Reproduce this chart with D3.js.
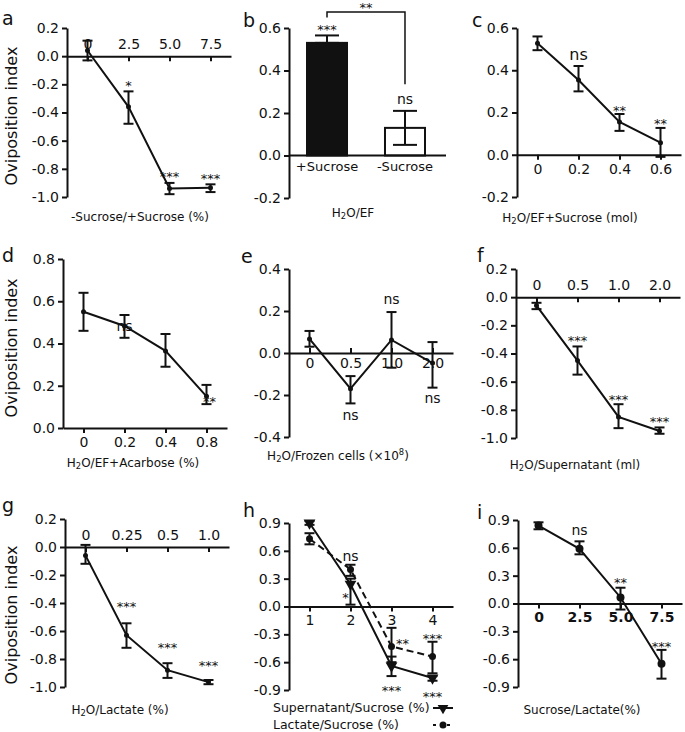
<!DOCTYPE html>
<html>
<head>
<meta charset="utf-8">
<script src="https://cdn.jsdelivr.net/npm/d3@7"></script>
<style>
  body { margin: 0; background: #fff; }
  svg text { font-family: "DejaVu Sans", "Liberation Sans", sans-serif; fill: #111; }
</style>
</head>
<body>
<div id="fig"></div>
<script>
// ---- data ----
const aDose = ["0", "2.5", "5.0", "7.5"];
const aMean = [0.04, -0.36, -0.94, -0.935];
const aHi = [0.11, -0.25, -0.90, -0.91];
const aLo = [-0.03, -0.48, -0.98, -0.965];
const aSig = ["", "*", "***", "***"];
const aSigY = [null, -0.18, -0.83, -0.84];

const bGroups = ["+Sucrose", "-Sucrose"];
const bMean = [0.53, 0.13];
const bHi = [0.565, 0.21];
const bLo = [0.53, 0.05];
const bSig = ["***", "ns"];
const bSigY = [0.61, 0.26];
const bPairSig = "**";

const cDose = ["0", "0.2", "0.4", "0.6"];
const cMean = [0.528, 0.354, 0.155, 0.057];
const cHi = [0.56, 0.42, 0.193, 0.127];
const cLo = [0.495, 0.30, 0.113, -0.01];
const cSig = ["", "ns", "**", "**"];
const cSigY = [null, 0.47, 0.226, 0.165];

const dDose = ["0", "0.2", "0.4", "0.8"];
const dMean = [0.55, 0.483, 0.365, 0.15];
const dHi = [0.64, 0.535, 0.445, 0.204];
const dLo = [0.46, 0.427, 0.29, 0.113];
const dSig = ["", "ns", "", "**"];
const dSigY = [null, 0.48, null, 0.14];

const eDose = ["0", "0.5", "1.0", "2.0"];
const eMean = [0.067, -0.17, 0.062, -0.048];
const eHi = [0.105, -0.11, 0.195, 0.052];
const eLo = [0.03, -0.24, -0.07, -0.165];
const eSig = ["", "ns", "ns", "ns"];
const eSigY = [null, -0.30, 0.25, -0.22];

const fDose = ["0", "0.5", "1.0", "2.0"];
const fMean = [-0.06, -0.45, -0.85, -0.95];
const fHi = [-0.04, -0.35, -0.76, -0.925];
const fLo = [-0.085, -0.55, -0.93, -0.97];
const fSig = ["", "***", "***", "***"];
const fSigY = [null, -0.28, -0.70, -0.86];

const gDose = ["0", "0.25", "0.5", "1.0"];
const gMean = [-0.06, -0.63, -0.88, -0.965];
const gHi = [0.015, -0.545, -0.83, -0.95];
const gLo = [-0.12, -0.72, -0.935, -0.98];
const gSig = ["", "***", "***", "***"];
const gSigY = [null, -0.40, -0.69, -0.82];

const hDose = ["1", "2", "3", "4"];
const hSeries = ["Supernatant/Sucrose (%)", "Lactate/Sucrose (%)"];
const hSupMean = [0.90, 0.24, -0.64, -0.77];
const hSupHi = [0.92, 0.30, -0.54, -0.75];
const hSupLo = [0.88, 0.02, -0.75, -0.80];
const hLacMean = [0.73, 0.40, -0.43, -0.54];
const hLacHi = [0.79, 0.45, -0.23, -0.38];
const hLacLo = [0.67, 0.33, -0.60, -0.72];
const hSigText = ["ns", "*", "**", "***", "***", "***"];
const hSigDose = [1, 1, 2, 3, 2, 3];
const hSigY = [0.53, 0.13, -0.36, -0.31, -0.87, -0.93];

const iDose = ["0", "2.5", "5.0", "7.5"];
const iMean = [0.84, 0.59, 0.065, -0.65];
const iHi = [0.875, 0.67, 0.17, -0.50];
const iLo = [0.80, 0.53, -0.065, -0.81];
const iSig = ["", "ns", "**", "***"];
const iSigY = [null, 0.78, 0.26, -0.42];

const yTitle = "Oviposition index";

// ---- drawing ----
const svg = d3.select("#fig").append("svg").attr("width", 685).attr("height", 732);
const INK = "#111";

function styleAxis(sel, size, weight) {
  sel.attr("font-size", size).attr("font-family", null);
  sel.selectAll("text").attr("fill", INK).attr("font-weight", weight || null);
  sel.selectAll("path, line").attr("stroke", INK).attr("stroke-width", 2);
}

// text with _x subscripts and ^x superscripts
function richText(t, str) {
  let shift = 0;
  str.split(/([_^]\w)/).forEach(s => {
    if (!s) return;
    if (s[0] === "_" || s[0] === "^") {
      const d = s[0] === "_" ? 2 : -5;
      t.append("tspan").attr("dy", d - shift).attr("font-size", "0.7em").text(s[1]);
      shift = d;
    } else {
      t.append("tspan").attr("dy", -shift).text(s);
      shift = 0;
    }
  });
}

function makePanel(p) {
  const g = svg.append("g");
  const y = d3.scaleLinear().domain(p.yDomain).range([p.bottom, p.top]);
  const n = Math.round((p.yDomain[1] - p.yDomain[0]) / p.step);
  const yTicks = d3.range(n + 1).map(i => +(p.yDomain[0] + i * p.step).toFixed(2));
  g.append("g")
    .attr("transform", `translate(${p.left},0)`)
    .call(d3.axisLeft(y).tickValues(yTicks).tickFormat(d => d.toFixed(1))
      .tickSize(5).tickPadding(3).tickSizeOuter(0))
    .call(styleAxis, 14);
  g.append("text").attr("x", p.letterX).attr("y", p.letterY)
    .attr("font-size", 19).text(p.letter);
  if (p.title) {
    const t = g.append("text").attr("x", p.titleX).attr("y", p.titleY)
      .attr("text-anchor", "middle").attr("font-size", 12);
    richText(t, p.title);
  }
  if (p.yLabel) {
    g.append("text")
      .attr("transform", `translate(17,${p.yLabelY}) rotate(-90)`)
      .attr("text-anchor", "middle").attr("font-size", 16).text(yTitle);
  }
  return { g, y };
}

function errorBars(g, x, y, hi, lo, capW) {
  const idx = d3.range(hi.length);
  const eb = g.append("g").attr("stroke", INK).attr("stroke-width", 2);
  eb.selectAll(".stem").data(idx).join("line").attr("class", "stem")
    .attr("x1", i => x(i)).attr("x2", i => x(i))
    .attr("y1", i => y(hi[i])).attr("y2", i => y(lo[i]));
  eb.selectAll(".capH").data(idx).join("line").attr("class", "capH")
    .attr("x1", i => x(i) - capW / 2).attr("x2", i => x(i) + capW / 2)
    .attr("y1", i => y(hi[i])).attr("y2", i => y(hi[i]));
  eb.selectAll(".capL").data(idx.filter(i => lo[i] !== hi[i])).join("line").attr("class", "capL")
    .attr("x1", i => x(i) - capW / 2).attr("x2", i => x(i) + capW / 2)
    .attr("y1", i => y(lo[i])).attr("y2", i => y(lo[i]));
}

function series(g, x, y, mean, hi, lo, opt) {
  const idx = d3.range(mean.length);
  g.append("path").datum(idx)
    .attr("fill", "none").attr("stroke", INK).attr("stroke-width", 2)
    .attr("stroke-dasharray", opt.dash || null)
    .attr("d", d3.line().x(i => x(i)).y(i => y(mean[i])));
  errorBars(g, x, y, hi, lo, 10);
  if (opt.marker === "tri") {
    g.selectAll(null).data(idx).join("path")
      .attr("d", d3.symbol(d3.symbolTriangle, 60))
      .attr("transform", i => `translate(${x(i)},${y(mean[i])}) rotate(180)`)
      .attr("fill", INK);
  } else {
    g.selectAll(null).data(idx).join("circle")
      .attr("cx", i => x(i)).attr("cy", i => y(mean[i]))
      .attr("r", opt.r || 2.5).attr("fill", INK);
  }
}

function sigText(g, xPos, yPos, t, size) {
  const star = t.includes("*");
  g.append("text").attr("x", xPos).attr("y", yPos)
    .attr("dy", star ? "0.62em" : "0.28em")
    .attr("text-anchor", "middle")
    .attr("font-size", star ? 13 : (size || 14))
    .attr("fill", star ? "#333" : INK)
    .text(t);
}

function linePanel(p, dose, mean, hi, lo, sig, sigY) {
  const { g, y } = makePanel(p);
  const x = d3.scaleLinear().domain([-0.5, 3.5]).range([p.left, p.left + 164]);
  let ax;
  if (p.xLabels === "top") ax = d3.axisTop(x).tickSize(-5).tickPadding(7);
  else if (p.xLabels === "up") ax = d3.axisBottom(x).tickSize(-5).tickPadding(5);
  else ax = d3.axisBottom(x).tickSize(5).tickPadding(4);
  ax.tickValues(d3.range(dose.length)).tickFormat(i => dose[i]).tickSizeOuter(0);
  g.append("g").attr("transform", `translate(0,${y(0)})`)
    .call(ax).call(styleAxis, 14, p.bold ? "bold" : null);
  if (mean) {
    series(g, x, y, mean, hi, lo, { r: p.r });
    sig.forEach((t, i) => {
      if (t) sigText(g, x(i) + (p.sigDx ? p.sigDx[i] : 0), y(sigY[i]), t, p.nsSize);
    });
  }
  return { g, x, y };
}

// a
linePanel({ left: 67, top: 28, bottom: 197, yDomain: [-1.0, 0.2], step: 0.2, xLabels: "top",
  letter: "a", letterX: 2, letterY: 25, title: "-Sucrose/+Sucrose (%)", titleX: 140, titleY: 221,
  yLabel: true, yLabelY: 116 }, aDose, aMean, aHi, aLo, aSig, aSigY);

// b (bar chart)
(function () {
  const p = { left: 289, top: 28, bottom: 198, yDomain: [-0.2, 0.6], step: 0.2,
    letter: "b", letterX: 243, letterY: 27, title: "H_2O/EF", titleX: 353, titleY: 217 };
  const { g, y } = makePanel(p);
  const xb = d3.scaleBand().domain(bGroups).range([307, 425]).paddingInner(0.487);
  const cx = i => xb(bGroups[i]) + xb.bandwidth() / 2;
  g.selectAll("rect").data(bGroups).join("rect")
    .attr("x", d => xb(d)).attr("width", xb.bandwidth())
    .attr("y", (d, i) => y(bMean[i])).attr("height", (d, i) => y(0) - y(bMean[i]))
    .attr("fill", (d, i) => i === 0 ? INK : "#fff")
    .attr("stroke", INK).attr("stroke-width", 2);
  errorBars(g, cx, y, bHi, bLo, 24);
  g.append("line").attr("x1", p.left).attr("x2", p.left + 157)
    .attr("y1", y(0)).attr("y2", y(0)).attr("stroke", INK).attr("stroke-width", 2);
  g.append("g").attr("transform", `translate(0,${y(0)})`)
    .call(d3.axisBottom(xb).tickSize(0).tickPadding(6))
    .call(s => s.select(".domain").remove())
    .call(styleAxis, 13);
  bSig.forEach((t, i) => sigText(g, cx(i), y(bSigY[i]), t, 14));
  // comparison bracket
  g.append("path").attr("fill", "none").attr("stroke", INK).attr("stroke-width", 1.5)
    .attr("d", `M${cx(0)},${y(0.65)}V${y(0.675)}H${cx(1)}V${y(0.335)}`);
  sigText(g, (cx(0) + cx(1)) / 2, y(0.715), bPairSig);
})();

// c
linePanel({ left: 517, top: 28, bottom: 197, yDomain: [-0.2, 0.6], step: 0.2,
  letter: "c", letterX: 472, letterY: 27, title: "H_2O/EF+Sucrose (mol)", titleX: 570, titleY: 222,
  nsSize: 16 }, cDose, cMean, cHi, cLo, cSig, cSigY);

// d
linePanel({ left: 63, top: 259, bottom: 428, yDomain: [0, 0.8], step: 0.2,
  letter: "d", letterX: 2, letterY: 262, title: "H_2O/EF+Acarbose (%)", titleX: 133, titleY: 467,
  yLabel: true, yLabelY: 348, sigDx: [0, 0, 0, 3] }, dDose, dMean, dHi, dLo, dSig, dSigY);

// e
linePanel({ left: 289, top: 269, bottom: 437, yDomain: [-0.4, 0.4], step: 0.2, xLabels: "up",
  letter: "e", letterX: 241, letterY: 263, title: "H_2O/Frozen cells (×10^8)", titleX: 338, titleY: 460 },
  eDose, eMean, eHi, eLo, eSig, eSigY);

// f
linePanel({ left: 516, top: 269, bottom: 438, yDomain: [-1.0, 0.2], step: 0.2, xLabels: "top",
  letter: "f", letterX: 477, letterY: 262, title: "H_2O/Supernatant (ml)", titleX: 575, titleY: 469 },
  fDose, fMean, fHi, fLo, fSig, fSigY);

// g
linePanel({ left: 65, top: 519, bottom: 687, yDomain: [-1.0, 0.2], step: 0.2, xLabels: "top",
  letter: "g", letterX: 2, letterY: 512, title: "H_2O/Lactate (%)", titleX: 120, titleY: 714,
  yLabel: true, yLabelY: 615 }, gDose, gMean, gHi, gLo, gSig, gSigY);

// h (two series + legend)
(function () {
  const { g, x, y } = linePanel({ left: 289, top: 523, bottom: 690, yDomain: [-0.9, 0.9], step: 0.3,
    letter: "h", letterX: 243, letterY: 517 }, hDose);
  series(g, x, y, hLacMean, hLacHi, hLacLo, { dash: "7,4", r: 3.5 });
  series(g, x, y, hSupMean, hSupHi, hSupLo, { marker: "tri" });
  const dx = [0, -5, 11, 0, 0, 0];
  hSigText.forEach((t, k) => sigText(g, x(hSigDose[k]) + dx[k], y(hSigY[k]), t));
  const leg = g.append("g").attr("transform", "translate(273,708)");
  hSeries.forEach((name, k) => {
    const row = leg.append("g").attr("transform", `translate(0,${k * 17})`);
    row.append("text").attr("x", 0).attr("dy", "0.35em").attr("font-size", 12.5).text(name);
    row.append("line").attr("x1", 160).attr("x2", 180).attr("stroke", INK).attr("stroke-width", 2)
      .attr("stroke-dasharray", k ? "3,4" : null);
    if (k === 0) {
      row.append("path").attr("d", d3.symbol(d3.symbolTriangle, 50))
        .attr("transform", "translate(170,0) rotate(180)").attr("fill", INK);
    } else {
      row.append("circle").attr("cx", 170).attr("r", 3.5).attr("fill", INK);
    }
  });
})();

// i
linePanel({ left: 518, top: 520, bottom: 687, yDomain: [-0.9, 0.9], step: 0.3, bold: true,
  letter: "i", letterX: 477, letterY: 519, title: "Sucrose/Lactate(%)", titleX: 582, titleY: 714,
  r: 4 }, iDose, iMean, iHi, iLo, iSig, iSigY);
</script>
</body>
</html>
